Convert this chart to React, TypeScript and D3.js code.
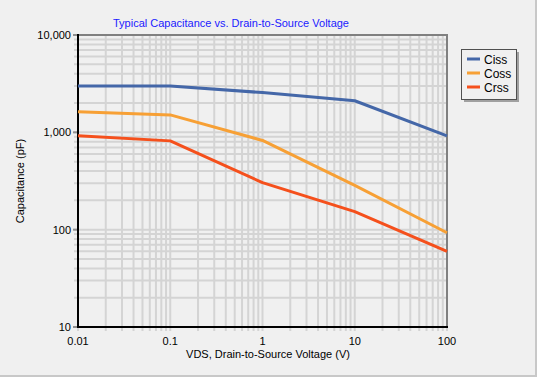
import React from "react";
import * as d3 from "d3";

const xTicks = [0.01, 0.1, 1, 10, 100];
const xTickLabels = ["0.01", "0.1", "1", "10", "100"];
const yTicks = [10, 100, 1000, 10000];
const yTickLabels = ["10", "100", "1,000", "10,000"];

const seriesNames = ["Ciss", "Coss", "Crss"];
const seriesColors = ["#4467a8", "#f7a035", "#f5501c"];
const cissX = [0.01, 0.1, 1, 10, 100];
const cissY = [3000, 3000, 2560, 2110, 920];
const cossX = [0.01, 0.1, 1, 10, 100];
const cossY = [1630, 1510, 825, 285, 93];
const crssX = [0.01, 0.1, 1, 10, 100];
const crssY = [920, 817, 304, 153, 60];

const W = 537;
const H = 377;
const FONT = "'Liberation Sans', Arial, sans-serif";

export default function App() {
  const left = 78;
  const right = 447;
  const top = 35;
  const bottom = 327;
  const x = d3.scaleLog().domain([0.01, 100]).range([left, right]);
  const y = d3.scaleLog().domain([10, 10000]).range([bottom, top]);

  const minorX: number[] = [];
  for (let d = 0.01; d < 100; d *= 10) {
    for (let k = 2; k <= 9; k++) minorX.push(+(d * k).toPrecision(3));
  }
  const minorY: number[] = [];
  for (let d = 10; d < 10000; d *= 10) {
    for (let k = 2; k <= 9; k++) minorY.push(d * k);
  }

  const line = d3
    .line<[number, number]>()
    .x((d) => x(d[0]))
    .y((d) => y(d[1]));

  const series = [
    cissX.map((v, i) => [v, cissY[i]] as [number, number]),
    cossX.map((v, i) => [v, cossY[i]] as [number, number]),
    crssX.map((v, i) => [v, crssY[i]] as [number, number]),
  ];

  const grid = "#d4d4d4";

  return (
    <svg
      width={W}
      height={H}
      style={{ position: "absolute", left: 0, top: 0 }}
      fontFamily={FONT}
    >
      <rect x={0} y={0} width={W} height={H} fill="#f0f0f0" />
      <rect x={W - 2} y={0} width={2} height={H} fill="#c8c8c8" />
      <rect x={0} y={H - 2} width={W} height={2} fill="#c8c8c8" />

      <text
        x={231}
        y={27}
        textAnchor="middle"
        fontSize={11}
        fill="#2020ff"
      >
        Typical Capacitance vs. Drain-to-Source Voltage
      </text>

      {/* grid */}
      {[...minorX, ...xTicks].map((v, i) => (
        <line
          key={"gx" + i}
          x1={x(v)}
          x2={x(v)}
          y1={top}
          y2={bottom + 4}
          stroke={grid}
          strokeWidth={2}
        />
      ))}
      {[...minorY, ...yTicks].map((v, i) => (
        <line
          key={"gy" + i}
          x1={left - 4}
          x2={right}
          y1={y(v)}
          y2={y(v)}
          stroke={grid}
          strokeWidth={2}
        />
      ))}
      {/* major y ticks */}
      {yTicks.map((v, i) => (
        <line
          key={"ty" + i}
          x1={left - 5}
          x2={left}
          y1={y(v)}
          y2={y(v)}
          stroke="#909090"
          strokeWidth={2}
        />
      ))}

      {/* frame */}
      <line x1={left} x2={right + 1} y1={top} y2={top} stroke="#808080" strokeWidth={2} />
      <line x1={right} x2={right} y1={top} y2={bottom} stroke="#808080" strokeWidth={2} />
      <line x1={left} x2={left} y1={top - 1} y2={bottom + 1} stroke="#000" strokeWidth={2} />
      <line x1={left - 1} x2={right + 1} y1={bottom} y2={bottom} stroke="#000" strokeWidth={2} />

      {/* series */}
      {series.map((s, i) => (
        <path
          key={"s" + i}
          d={line(s) || ""}
          fill="none"
          stroke={seriesColors[i]}
          strokeWidth={3}
          strokeLinejoin="round"
        />
      ))}

      {/* tick labels */}
      {yTicks.map((v, i) => (
        <text
          key={"ly" + i}
          x={left - 7}
          y={y(v) + 4}
          textAnchor="end"
          fontSize={11}
          fill="#000"
        >
          {yTickLabels[i]}
        </text>
      ))}
      {xTicks.map((v, i) => (
        <text
          key={"lx" + i}
          x={x(v)}
          y={345}
          textAnchor="middle"
          fontSize={11}
          fill="#000"
        >
          {xTickLabels[i]}
        </text>
      ))}

      <text x={268} y={358} textAnchor="middle" fontSize={11} fill="#000">
        VDS, Drain-to-Source Voltage (V)
      </text>
      <text
        transform={`translate(24,${(top + bottom) / 2}) rotate(-90)`}
        textAnchor="middle"
        fontSize={11}
        fill="#000"
      >
        Capacitance (pF)
      </text>

      {/* legend */}
      <rect x={464} y={52} width={55} height={50} fill="#a0a0a0" />
      <rect x={461.5} y={49.5} width={55} height={50} fill="#f0f0f0" stroke="#505050" strokeWidth={1} />
      {seriesNames.map((n, i) => (
        <g key={"lg" + i}>
          <line
            x1={467}
            x2={480}
            y1={59 + i * 14}
            y2={59 + i * 14}
            stroke={seriesColors[i]}
            strokeWidth={3}
          />
          <text x={484} y={63.5 + i * 14} fontSize={12} fill="#000">
            {n}
          </text>
        </g>
      ))}
    </svg>
  );
}
